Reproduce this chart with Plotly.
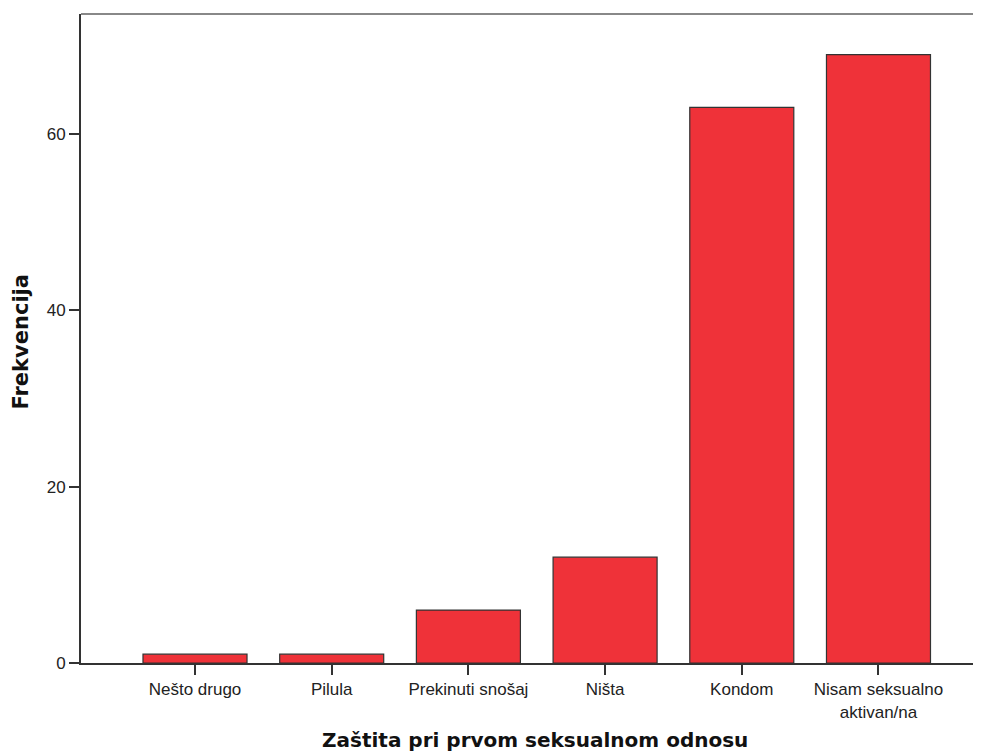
import plotly.graph_objects as go

categories = ["Nešto drugo", "Pilula", "Prekinuti snošaj", "Ništa", "Kondom",
              "Nisam seksualno<br>aktivan/na"]
values = [1, 1, 6, 12, 63, 69]
y_ticks = [0, 20, 40, 60]
x_title = "Zaštita pri prvom seksualnom odnosu"
y_title = "Frekvencija"

bar_color = "#ef3239"
tick_font = dict(family="Liberation Sans, Arial, sans-serif", size=17, color="#222222")
title_font = dict(family="DejaVu Sans, Verdana, sans-serif", size=20, color="#111111")
ytitle_font = dict(family="DejaVu Sans, Verdana, sans-serif", size=21, color="#111111")

fig = go.Figure()
fig.add_trace(go.Bar(
    x=list(range(len(categories))),
    y=values,
    marker=dict(color=bar_color, line=dict(color="#333333", width=1.2)),
    hoverinfo="x+y",
))

# page has an 8px default body margin, so the figure is sized/offset to compensate
fig.update_layout(
    width=973, height=746,
    margin=dict(l=73, r=0, t=6, b=91),
    paper_bgcolor="white", plot_bgcolor="white",
    bargap=0.239,
    showlegend=False,
    xaxis=dict(
        range=[-0.834, 5.75],
        tickvals=list(range(len(categories))),
        ticktext=categories,
        showgrid=False, zeroline=False,
        showline=True, linecolor="#333333", linewidth=2,
        ticks="outside", ticklen=10, tickwidth=1.5, tickcolor="#333333",
        tickfont=tick_font,
    ),
    yaxis=dict(
        range=[0, 73.6],
        tickvals=y_ticks,
        showgrid=False, zeroline=False,
        showline=True, linecolor="#333333", linewidth=2,
        ticks="outside", ticklen=10, tickwidth=1.5, tickcolor="#333333",
        tickfont=tick_font,
    ),
    shapes=[dict(type="line", xref="paper", yref="paper", x0=0, x1=1, y0=1, y1=1,
                 line=dict(color="#888888", width=2))],
    annotations=[
        dict(text=f"<b>{x_title}</b>", xref="paper", yref="paper", x=0.5, y=0,
             xshift=4, yshift=-77, xanchor="center", yanchor="middle",
             showarrow=False, font=title_font),
        dict(text=f"<b>{y_title}</b>", xref="paper", yref="paper", x=0, y=0.5,
             xshift=-61, yshift=-4, xanchor="center", yanchor="middle", textangle=-90,
             showarrow=False, font=ytitle_font),
    ],
)

fig.write_html("out.html")
